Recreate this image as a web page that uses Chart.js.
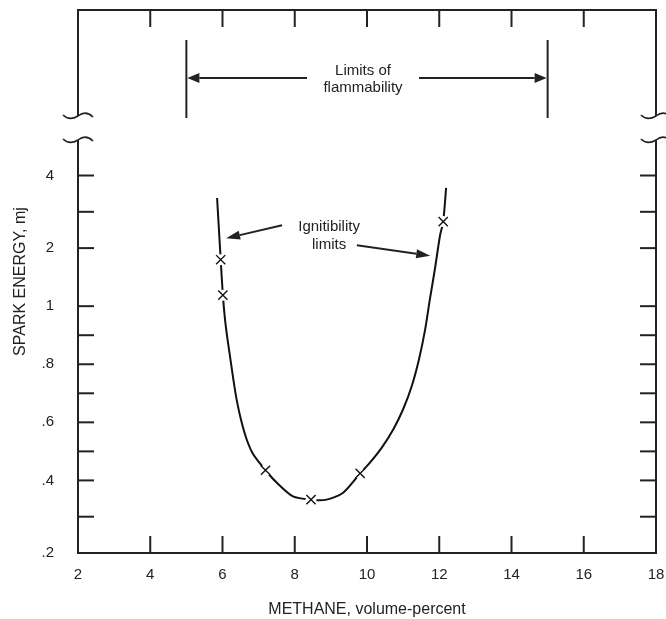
<!DOCTYPE html>
<html>
<head>
<meta charset="utf-8">
<script src="https://cdn.jsdelivr.net/npm/chart.js@4.4.1/dist/chart.umd.min.js"></script>
<style>
  html, body { margin: 0; padding: 0; background: #fff; }
  canvas { display: block; }
</style>
</head>
<body>
<canvas id="chispa" width="666" height="619"></canvas>
<script>
// Curva de ignicion: metano (% vol) y energia de chispa (mJ)
var methaneCurve = [5.85, 5.95, 6.01, 6.07, 6.14, 6.22, 6.30, 6.39, 6.51, 6.67, 6.85, 7.19,
                    7.50, 7.95, 8.45, 8.88, 9.34, 9.81, 10.04, 10.41, 10.73, 11.00, 11.24, 11.44,
                    11.61, 11.74, 11.88, 12.02, 12.11, 12.19];
var energyCurve  = [3.38, 1.80, 1.19, 0.954, 0.885, 0.817, 0.748, 0.679, 0.610, 0.541, 0.490, 0.435,
                    0.394, 0.356, 0.347, 0.347, 0.366, 0.424, 0.455, 0.513, 0.576, 0.645, 0.725, 0.817,
                    0.920, 1.116, 1.64, 2.34, 2.73, 3.66];
// Puntos medidos (marcados con X)
var testMethane = [5.95, 6.01, 7.19, 8.45, 9.81, 12.11];
var testEnergy  = [1.80, 1.19, 0.435, 0.347, 0.424, 2.73];
// Limites de inflamabilidad del metano
var flammabilityLimits = [5, 15];
// Eje x
var methaneTicks = [2, 4, 6, 8, 10, 12, 14, 16, 18];
// Eje y: escala irregular del original
var energyTicks  = [0.2, 0.3, 0.4, 0.5, 0.6, 0.7, 0.8, 0.9, 1, 2, 3, 4];
var energyLabels = ['.2', '', '.4', '', '.6', '', '.8', '', '1', '2', '', '4'];
var energySpacing = [1.25, 1.25, 1, 1, 1, 1, 1, 1, 2, 1.25, 1.25]; // separacion relativa entre marcas
var energyTopRoom = 5.7; // espacio sobre el 4 (zona de limites)

var FONT = "'Liberation Sans', Arial, sans-serif";
var INK = '#222';

// Escala por tramos, como la del grafico original
class EnergyScale extends Chart.LinearScale {
    buildTicks() {
        return energyTicks.map(function(v) { return {value: v}; });
    }
    toDecimal(v) {
        var total = energyTopRoom, cum = 0, i;
        for (i = 0; i < energySpacing.length; i++) total += energySpacing[i];
        var last = energyTicks.length - 1;
        if (v <= energyTicks[0]) {
            return (v - energyTicks[0]) / (energyTicks[1] - energyTicks[0]) * energySpacing[0] / total;
        }
        for (i = 0; i < last; i++) {
            if (v <= energyTicks[i + 1]) {
                return (cum + (v - energyTicks[i]) / (energyTicks[i + 1] - energyTicks[i]) * energySpacing[i]) / total;
            }
            cum += energySpacing[i];
        }
        return (cum + (v - energyTicks[last]) / (energyTicks[last] - energyTicks[last - 1]) * energySpacing[last - 1]) / total;
    }
    getPixelForValue(value) {
        return this.getPixelForDecimal(this.toDecimal(value));
    }
    getValueForPixel(pixel) {
        var d = this.getDecimalForPixel(pixel);
        var lo = 0.01, hi = 100;
        for (var k = 0; k < 60; k++) {
            var mid = (lo + hi) / 2;
            if (this.toDecimal(mid) < d) lo = mid; else hi = mid;
        }
        return lo;
    }
}
EnergyScale.id = 'energia';
EnergyScale.defaults = {};
Chart.register(EnergyScale);

function line(ctx, x1, y1, x2, y2) {
    ctx.beginPath();
    ctx.moveTo(x1, y1);
    ctx.lineTo(x2, y2);
    ctx.stroke();
}

// Flecha con punta rellena en (x2, y2)
function arrow(ctx, x1, y1, x2, y2, len, half) {
    var ang = Math.atan2(y2 - y1, x2 - x1);
    var bx = x2 - Math.cos(ang) * len, by = y2 - Math.sin(ang) * len;
    line(ctx, x1, y1, bx, by);
    ctx.beginPath();
    ctx.moveTo(x2, y2);
    ctx.lineTo(bx + Math.sin(ang) * half, by - Math.cos(ang) * half);
    ctx.lineTo(bx - Math.sin(ang) * half, by + Math.cos(ang) * half);
    ctx.closePath();
    ctx.fill();
}

// Marca de corte del eje
function squiggle(ctx, cx, cy) {
    ctx.beginPath();
    ctx.moveTo(cx - 15, cy - 1);
    ctx.bezierCurveTo(cx - 10, cy + 4, cx - 5, cy + 3, cx, cy);
    ctx.bezierCurveTo(cx + 5, cy - 4, cx + 10, cy - 4, cx + 15, cy + 1);
    ctx.stroke();
}

var frameAndNotes = {
    id: 'frameAndNotes',
    afterDraw: function(chart) {
        var ctx = chart.ctx, a = chart.chartArea;
        var xs = chart.scales.x, ys = chart.scales.y;
        var breakTop = a.top + 106, breakBottom = a.top + 130;
        ctx.save();
        ctx.strokeStyle = INK;
        ctx.fillStyle = INK;
        ctx.lineWidth = 2;
        ctx.lineCap = 'butt';

        // marco
        line(ctx, a.left - 1, a.top, a.right + 1, a.top);
        line(ctx, a.left - 1, a.bottom, a.right + 1, a.bottom);
        line(ctx, a.left, a.top, a.left, breakTop);
        line(ctx, a.left, breakBottom, a.left, a.bottom);
        line(ctx, a.right, a.top, a.right, breakTop);
        line(ctx, a.right, breakBottom, a.right, a.bottom);
        ctx.lineWidth = 1.6;
        squiggle(ctx, a.left, breakTop);
        squiggle(ctx, a.left, breakBottom);
        squiggle(ctx, a.right, breakTop);
        squiggle(ctx, a.right, breakBottom);
        ctx.lineWidth = 2;

        // marcas hacia dentro
        methaneTicks.slice(1, -1).forEach(function(v) {
            var px = xs.getPixelForValue(v);
            line(ctx, px, a.bottom, px, a.bottom - 17);
            line(ctx, px, a.top, px, a.top + 17);
        });
        energyTicks.slice(1).forEach(function(v) {
            var py = ys.getPixelForValue(v);
            line(ctx, a.left, py, a.left + 16, py);
            line(ctx, a.right, py, a.right - 16, py);
        });

        // limites de inflamabilidad
        var lx = xs.getPixelForValue(flammabilityLimits[0]);
        var rx = xs.getPixelForValue(flammabilityLimits[1]);
        var mx = (lx + rx) / 2;
        var ay = a.top + 68;
        line(ctx, lx, a.top + 30, lx, a.top + 108);
        line(ctx, rx, a.top + 30, rx, a.top + 108);
        arrow(ctx, mx - 60, ay, lx + 1, ay, 12, 5);
        arrow(ctx, mx + 52, ay, rx - 1, ay, 12, 5);
        ctx.font = '15px ' + FONT;
        ctx.textAlign = 'center';
        ctx.textBaseline = 'middle';
        ctx.fillText('Limits of', mx - 4, a.top + 61);
        ctx.fillText('flammability', mx - 4, a.top + 78);

        // limites de ignicion
        var tx = xs.getPixelForValue(8.95), ty = ys.getPixelForValue(2.35);
        ctx.fillText('Ignitibility', tx, ty - 9);
        ctx.fillText('limits', tx, ty + 9);
        arrow(ctx, xs.getPixelForValue(7.65), ys.getPixelForValue(2.63),
              xs.getPixelForValue(6.10), ys.getPixelForValue(2.27), 14, 4.5);
        arrow(ctx, xs.getPixelForValue(9.72), ys.getPixelForValue(2.08),
              xs.getPixelForValue(11.75), ys.getPixelForValue(1.87), 14, 4.5);
        ctx.restore();
    }
};

var curvePoints = methaneCurve.map(function(x, i) { return {x: x, y: energyCurve[i]}; });
var testPoints = testMethane.map(function(x, i) { return {x: x, y: testEnergy[i]}; });

new Chart(document.getElementById('chispa'), {
    type: 'scatter',
    data: {
        datasets: [{
            data: curvePoints,
            showLine: true,
            borderColor: '#111',
            borderWidth: 2,
            pointRadius: 0,
            tension: 0.25,
            order: 3
        }, {
            // hueco blanco alrededor de cada X
            data: testPoints,
            pointStyle: 'circle',
            pointRadius: 5.5,
            backgroundColor: '#fff',
            borderWidth: 0,
            order: 2
        }, {
            data: testPoints,
            pointStyle: 'crossRot',
            pointRadius: 6.5,
            borderColor: '#111',
            borderWidth: 1.4,
            order: 1
        }]
    },
    options: {
        responsive: false,
        animation: false,
        events: [],
        layout: { padding: { top: 10, right: 10, left: 0, bottom: 0 } },
        plugins: { legend: { display: false }, tooltip: { enabled: false } },
        scales: {
            x: {
                type: 'linear',
                min: 2,
                max: 18,
                grid: { display: false },
                border: { display: false },
                afterBuildTicks: function(scale) {
                    scale.ticks = methaneTicks.map(function(v) { return {value: v}; });
                },
                afterFit: function(scale) {
                    scale.height = 66;
                    scale.paddingLeft = 0;
                    scale.paddingRight = 0;
                },
                ticks: { color: INK, font: { family: FONT, size: 15 }, padding: 5, maxRotation: 0, autoSkip: false },
                title: {
                    display: true,
                    text: 'METHANE, volume-percent',
                    color: INK,
                    font: { family: FONT, size: 16 },
                    padding: { top: 0, bottom: 0 }
                }
            },
            y: {
                type: 'energia',
                min: 0.2,
                max: 4,
                grid: { display: false },
                border: { display: false },
                afterFit: function(scale) {
                    scale.width = 78;
                    scale.paddingTop = 0;
                    scale.paddingBottom = 0;
                },
                ticks: {
                    color: INK,
                    font: { family: FONT, size: 15 },
                    padding: 16,
                    autoSkip: false,
                    callback: function(v, i) { return energyLabels[i]; }
                },
                title: {
                    display: true,
                    text: 'SPARK ENERGY, mj',
                    color: INK,
                    font: { family: FONT, size: 16 },
                    padding: { top: 11, bottom: 0 }
                }
            }
        }
    },
    plugins: [frameAndNotes]
});
</script>
</body>
</html>
